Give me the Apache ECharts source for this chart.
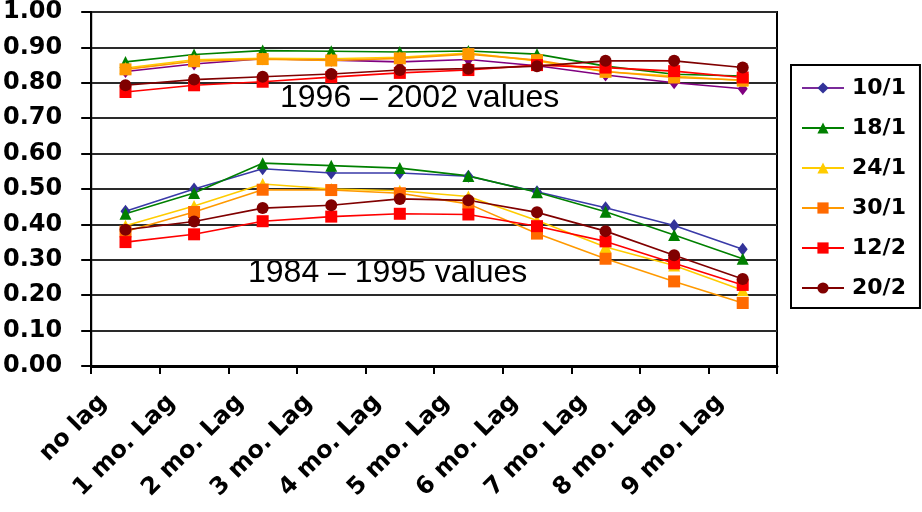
<!DOCTYPE html>
<html>
<head>
<meta charset="utf-8">
<script src="https://cdn.jsdelivr.net/npm/echarts@6/dist/echarts.min.js"></script>
<style>
  html, body { margin: 0; padding: 0; background: #fff; }
  #chart { width: 922px; height: 512px; }
</style>
</head>
<body>
<div id="chart"></div>
<script>
// Lag categories along the x axis
const categories = ['no lag', '1 mo. Lag', '2 mo. Lag', '3 mo. Lag', '4 mo. Lag',
  '5 mo. Lag', '6 mo. Lag', '7 mo. Lag', '8 mo. Lag', '9 mo. Lag'];

// Y axis tick labels
const yTicks = ['0.00', '0.10', '0.20', '0.30', '0.40', '0.50', '0.60', '0.70', '0.80', '0.90', '1.00'];

// Series names (dates)
const seriesNames = ['10/1', '18/1', '24/1', '30/1', '12/2', '20/2'];

// 1984 – 1995 values
const early10_1 = [0.437, 0.500, 0.557, 0.545, 0.545, 0.536, 0.492, 0.447, 0.397, 0.330];
const early18_1 = [0.430, 0.489, 0.573, 0.566, 0.559, 0.537, 0.491, 0.436, 0.370, 0.303];
const early24_1 = [0.396, 0.452, 0.514, 0.500, 0.495, 0.479, 0.411, 0.336, 0.284, 0.214];
const early30_1 = [0.380, 0.435, 0.498, 0.497, 0.488, 0.458, 0.374, 0.303, 0.239, 0.178];
const early12_2 = [0.350, 0.372, 0.409, 0.422, 0.430, 0.428, 0.395, 0.352, 0.290, 0.229];
const early20_2 = [0.385, 0.408, 0.446, 0.454, 0.472, 0.468, 0.434, 0.381, 0.313, 0.246];

// 1996 – 2002 values
const recent10_1 = [0.832, 0.853, 0.868, 0.864, 0.859, 0.866, 0.848, 0.822, 0.800, 0.783];
const recent18_1 = [0.859, 0.880, 0.891, 0.889, 0.887, 0.890, 0.881, 0.847, 0.824, 0.819];
const recent24_1 = [0.842, 0.865, 0.869, 0.868, 0.872, 0.884, 0.862, 0.831, 0.819, 0.806];
const recent30_1 = [0.838, 0.861, 0.867, 0.863, 0.869, 0.881, 0.864, 0.832, 0.815, 0.808];
const recent12_2 = [0.774, 0.793, 0.803, 0.816, 0.828, 0.836, 0.850, 0.843, 0.833, 0.815];
const recent20_2 = [0.793, 0.809, 0.817, 0.825, 0.836, 0.840, 0.847, 0.862, 0.862, 0.843];

const earlyData = [early10_1, early18_1, early24_1, early30_1, early12_2, early20_2];
const recentData = [recent10_1, recent18_1, recent24_1, recent30_1, recent12_2, recent20_2];

// Per-series look: line colour, marker colour, marker shape and size
const earlyStyle = [
  { line: '#3a3aa8', mark: '#333399', symbol: 'diamond', size: [10, 13] },
  { line: '#008000', mark: '#008000', symbol: 'triangle', size: 12 },
  { line: '#ffcc00', mark: '#ffcc00', symbol: 'triangle', size: 12 },
  { line: '#ff9900', mark: '#ff6a00', symbol: 'rect', size: 12 },
  { line: '#ff0000', mark: '#ff0000', symbol: 'rect', size: 12 },
  { line: '#800000', mark: '#800000', symbol: 'circle', size: 12 }
];
const recentStyle = [
  { line: '#800080', mark: '#800080', symbol: 'diamond', size: [10, 13] },
  { line: '#008000', mark: '#008000', symbol: 'triangle', size: 12 },
  { line: '#ffcc00', mark: '#ffcc00', symbol: 'triangle', size: 12 },
  { line: '#ff9900', mark: '#ff9900', symbol: 'rect', size: 12 },
  { line: '#ff0000', mark: '#ff0000', symbol: 'rect', size: 12 },
  { line: '#800000', mark: '#800000', symbol: 'circle', size: 12 }
];

function makeSeries(name, data, st) {
  return {
    name: name,
    type: 'line',
    data: data,
    symbol: st.symbol,
    symbolSize: st.size,
    showAllSymbol: true,
    lineStyle: { color: st.line, width: 1.6 },
    itemStyle: { color: st.mark },
    emphasis: { disabled: true },
    animation: false
  };
}

const series = [];
seriesNames.forEach((n, i) => series.push(makeSeries(n, earlyData[i], earlyStyle[i])));
seriesNames.forEach((n, i) => series.push(makeSeries(n, recentData[i], recentStyle[i])));

// Legend entries: the 10/1 key shows a purple line with a navy diamond
const legendItems = seriesNames.map((n, i) =>
  i === 0 ? { name: n, lineStyle: { color: '#7a2a9a' }, itemStyle: { color: '#333399' } } : { name: n });

const chart = echarts.init(document.getElementById('chart'));
chart.setOption({
  backgroundColor: '#ffffff',
  animation: false,
  grid: {
    left: 91, right: 145, top: 11, bottom: 146,
    show: true, borderColor: '#000', borderWidth: 2, containLabel: false
  },
  legend: {
    data: legendItems,
    orient: 'vertical',
    left: 791, top: 65,
    padding: [12, 14, 9, 10],
    itemWidth: 42,
    itemHeight: 14,
    itemGap: 18,
    borderColor: '#000', borderWidth: 2,
    textStyle: { fontFamily: 'DejaVu Sans', fontWeight: 'bold', fontSize: 22, color: '#000', padding: [0, 0, 0, 3] }
  },
  xAxis: {
    type: 'category',
    data: categories,
    boundaryGap: true,
    axisLine: { lineStyle: { color: '#000', width: 3 } },
    axisTick: { show: true, length: 8, lineStyle: { color: '#000', width: 2 } },
    axisLabel: {
      rotate: 45, interval: 0, margin: 10,
      padding: [0, 32, 0, 0],
      fontFamily: 'DejaVu Sans', fontWeight: 'bold', fontSize: 24, color: '#000'
    },
    splitLine: { show: false }
  },
  yAxis: {
    type: 'value',
    min: 0, max: 1, interval: 0.1,
    axisLine: { show: true, lineStyle: { color: '#000', width: 2 } },
    axisTick: { show: true, length: 10, lineStyle: { color: '#000', width: 2 } },
    axisLabel: {
      margin: 29,
      fontFamily: 'DejaVu Sans', fontWeight: 'bold', fontSize: 24, color: '#000',
      formatter: (v) => yTicks[Math.round(v * 10)]
    },
    splitLine: { show: true, lineStyle: { color: '#2a2a2a', width: 2 } }
  },
  graphic: [
    {
      type: 'text', left: 280, top: 82, silent: true,
      style: { text: '1996 – 2002 values', fontFamily: 'Liberation Sans', fontSize: 32, fill: '#000' }
    },
    {
      type: 'text', left: 248, top: 257, silent: true,
      style: { text: '1984 – 1995 values', fontFamily: 'Liberation Sans', fontSize: 32, fill: '#000' }
    }
  ],
  series: series
});
</script>
</body>
</html>
